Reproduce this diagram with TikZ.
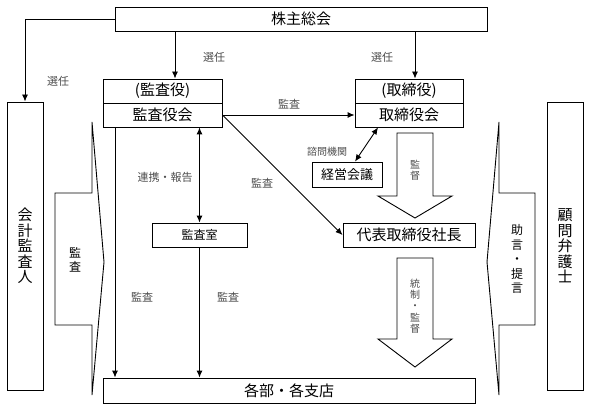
\documentclass[tikz,border=0pt]{standalone}
\usepackage{fontspec}
\usetikzlibrary{arrows.meta}
\setmainfont{Noto Sans CJK JP}
\begin{document}
\begin{tikzpicture}[x=1pt, y=-1pt, >={Latex[length=7pt,width=6pt]}, line width=0.9pt,
  box/.style={draw, inner sep=0pt, font=\fontsize{15}{15.5}\selectfont},
  vbox/.style={box, align=center, minimum width=36, minimum height=288},
  lbl/.style={inner sep=0pt, text=black!70, font=\fontsize{11}{11}\selectfont},
  vlbl/.style={lbl, align=center, font=\fontsize{10}{11.3}\selectfont}]
            \useasboundingbox (0,0) rectangle (589,409);

            % main boxes
            \node[box, minimum width=372, minimum height=24] (soukai) at (301,19) {株主総会};
            \node[vbox] (kaikei) at (25,246) {会\\計\\監\\査\\人};
            \node[vbox] (bengo) at (565,246) {顧\\問\\弁\\護\\士};

            \node[box, minimum width=119, minimum height=24] (kansayaku) at (162.5,91) {(監査役)};
            \node[box, minimum width=119, minimum height=24] (kansakai) at (162.5,115) {監査役会};
            \node[box, minimum width=108, minimum height=24] (torishimari) at (409,91) {(取締役)};
            \node[box, minimum width=108, minimum height=24] (torikai) at (409,115) {取締役会};

            \node[box, minimum width=70, minimum height=25, font=\fontsize{13}{13}\selectfont] (keiei) at (347,174.5) {経営会議};
            \node[box, minimum width=132, minimum height=24] (shacho) at (409,235) {代表取締役社長};
            \node[box, minimum width=95, minimum height=24, font=\fontsize{12}{12}\selectfont] (shitsu) at (199.5,235) {監査室};
            \node[box, minimum width=372, minimum height=25] (kakubu) at (289,390.5) {各部・各支店};

            % x positions of the vertical arrows
            \coordinate (xa) at (115,0);
            \coordinate (xb) at (175,0);
            \coordinate (xc) at (415,0);

            % 選任
            \draw[->] (soukai.west) -| (kaikei.north);
            \draw[->] (soukai.south -| xb) -- (kansayaku.north -| xb);
            \draw[->] (soukai.south -| xc) -- (torishimari.north -| xc);
            \node[lbl] (sen1) at (58,81) {選任};
            \node[lbl] (sen2) at (214,57) {選任};
            \node[lbl] (sen3) at (382,57) {選任};

            % 監査
            \draw[->] (kansakai.east) -- (torikai.west);
            \node[lbl] (kansa1) at (289,104) {監査};
            \draw[->] (kansakai.east) -- (shacho.west);
            \node[lbl] (kansa2) at (262,183) {監査};
            \draw[<->] (kansakai.south -| shitsu) -- (shitsu.north);
            \node[lbl] (renkei) at (165,177) {連携・報告};
            \draw[->] (kansakai.south -| xa) -- (kakubu.north -| xa);
            \node[lbl] (kansa3) at (142,297) {監査};
            \draw[->] (shitsu.south) -- (kakubu.north -| shitsu);
            \node[lbl] (kansa4) at (228,297) {監査};

            % 諮問機関
            \draw[<->] ([xshift=8pt]keiei.north) -- ([xshift=-31pt]torikai.south);
            \node[lbl, font=\fontsize{10}{10}\selectfont] (shimon) at (327,152) {諮問機関};

            % outline arrows
            \draw (397,133) -- (433,133) -- (433,196) -- (452,196) -- (415,218) -- (378,196) -- (397,196) -- cycle;
            \node[vlbl] (kantoku) at (415,170) {監\\督};
            \draw (397,258) -- (433,258) -- (433,339) -- (452,339) -- (415,367) -- (378,339) -- (397,339) -- cycle;
            \node[vlbl] (tousei) at (415,306) {統\\制\\・\\監\\督};

            % callouts
            \draw (92,122) -- (104,262) -- (92,395) -- (92,325) -- (55,325) -- (55,193) -- (92,193) -- cycle;
            \node[vlbl, text=black, font=\fontsize{12}{14}\selectfont] (kansa5) at (75,260) {監\\査};
            \draw (499,122) -- (487,262) -- (499,395) -- (499,325) -- (535,325) -- (535,193) -- (499,193) -- cycle;
            \node[vlbl, text=black, font=\fontsize{12}{14.5}\selectfont] (jogen) at (517,259) {助\\言\\・\\提\\言};

          \end{tikzpicture}
\end{document}
